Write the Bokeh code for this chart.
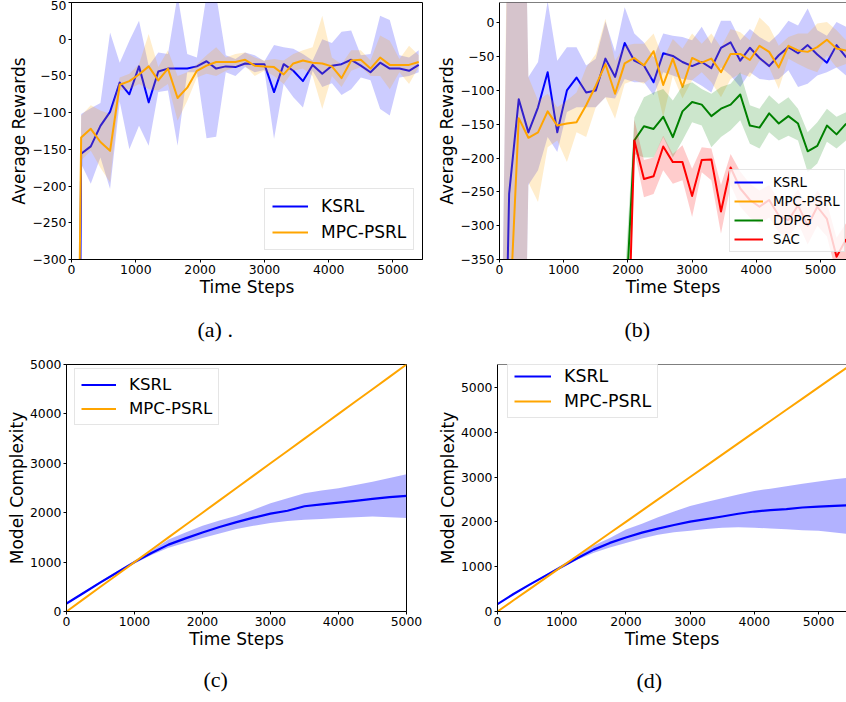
from bokeh.plotting import figure
from bokeh.layouts import column, row
from bokeh.models import Range1d, FixedTicker, Span, Title
from bokeh.embed import file_html
from bokeh.resources import INLINE

# ---------------- data: panel (a) ----------------
steps_a = [0, 150, 300, 450, 600, 750, 900, 1050, 1200, 1350, 1500, 1650, 1800, 1950,
           2100, 2250, 2400, 2550, 2700, 2850, 3000, 3150, 3300, 3450, 3600, 3750,
           3900, 4050, 4200, 4350, 4500, 4650, 4800, 4950, 5100, 5250, 5400]
ksrl_a = [-2200, -156, -146, -118, -99, -59, -75, -37, -86, -44, -40, -40, -40, -37,
          -30, -40, -37, -38, -33, -34, -34, -72, -34, -43, -57, -35, -47, -36, -34,
          -28, -36, -45, -32, -40, -40, -43, -35]
ksrl_a_hi = [-1900, -102, -94, -87, 9, -32, -2, 25, -36, -18, -20, 60, -20, -25,
             60, 60, -22, -27, -18, -22, -30, -8, -11, -13, -20, -29, 0, -5, 10,
             12, -22, -20, 32, 26, -22, -25, -15]
ksrl_a_lo = [-2500, -170, -197, -161, -204, -85, -150, -118, -145, -72, -70, -145, -45, -45,
             -135, -133, -45, -50, -38, -45, -42, -136, -61, -79, -93, -43, -65, -60, -76,
             -68, -52, -56, -95, -104, -52, -50, -45]
mpc_a = [-1300, -134, -122, -140, -152, -62, -57, -48, -37, -56, -40, -80, -66, -43,
         -36, -31, -31, -31, -28, -36, -37, -38, -48, -33, -29, -32, -33, -37, -53,
         -29, -28, -40, -25, -35, -35, -35, -31]
mpc_a_hi = [-1000, -104, -90, -97, -102, -52, -47, -34, 7, -38, -15, -50, -45, -34,
            -22, -11, -25, -20, -18, -25, -29, -27, -29, -20, -15, -11, 32, -25, -34,
            -15, -15, -29, 5, -2, -27, -9, -22]
mpc_a_lo = [-1600, -165, -152, -175, -195, -70, -68, -61, -68, -70, -61, -111, -84, -52,
            -47, -50, -43, -38, -36, -50, -43, -50, -61, -43, -40, -50, -95, -50, -65,
            -43, -38, -50, -50, -68, -45, -61, -38]

# ---------------- data: panel (b) ----------------
steps_b = steps_a
ksrl_b = [-950, -253, -113, -162, -125, -73, -162, -100, -81, -103, -100, -53, -80, -30,
          -56, -63, -88, -45, -49, -58, -64, -58, -67, -37, -29, -56, -37, -52, -64,
          -48, -36, -45, -33, -47, -59, -33, -51]
ksrl_b_hi = [-700, 300, 700, -80, -58, 32, -56, -36, -36, -63, -53, 2, -43, 23,
             -16, -29, -51, -16, -19, -21, -26, -6, -31, 3, 3, -26, -9, -21, -29,
             -16, 3, -4, 21, -11, -19, 1, -6]
ksrl_b_lo = [-1200, -800, -1050, -240, -218, -169, -191, -132, -125, -125, -125, -110, -112, -83,
             -88, -88, -107, -73, -78, -83, -85, -93, -103, -66, -78, -95, -73, -83, -85,
             -83, -70, -95, -90, -78, -73, -66, -78]
mpc_b = [-1000, -453, -141, -170, -162, -131, -152, -149, -147, -122, -93, -61, -105, -60,
         -52, -63, -42, -92, -53, -95, -52, -59, -53, -73, -46, -46, -55, -34, -43,
         -66, -34, -41, -43, -36, -25, -38, -41]
mpc_b_hi = [-800, 400, 700, -80, -115, -105, -125, -115, -103, -66, -46, 6, -56, -34,
            -31, -31, -16, -53, -24, -38, -16, -31, -16, -36, -9, -14, -26, 8, -6,
            -34, -21, -16, -16, -1, 1, -11, -26]
mpc_b_lo = [-1200, -1200, -1050, -236, -265, -184, -174, -206, -162, -169, -125, -110, -142, -90,
            -85, -90, -78, -140, -78, -112, -85, -73, -88, -110, -83, -75, -80, -56, -66,
            -98, -53, -61, -68, -73, -48, -66, -61]
steps_rl = [1950, 2100, 2250, 2400, 2550, 2700, 2850, 3000, 3150, 3300, 3450, 3600,
            3750, 3900, 4050, 4200, 4350, 4500, 4650, 4800, 4950, 5100, 5250, 5400]
ddpg_b = [-450, -174, -153, -157, -139, -169, -131, -117, -121, -138, -127, -121,
          -106, -152, -155, -134, -149, -138, -149, -190, -182, -152, -165, -149]
ddpg_b_hi = [-380, -140, -110, -103, -98, -115, -93, -88, -98, -105, -95, -90,
             -73, -122, -127, -107, -120, -110, -127, -162, -147, -127, -139, -132]
ddpg_b_lo = [-520, -194, -199, -199, -169, -199, -174, -147, -152, -184, -169, -159,
             -144, -179, -186, -162, -174, -167, -174, -221, -208, -176, -186, -174]
sac_b = [-650, -174, -231, -227, -183, -206, -206, -256, -203, -202, -279, -214,
         -245, -262, -272, -262, -285, -292, -270, -300, -272, -290, -346, -320]
sac_b_hi = [-580, -143, -203, -199, -167, -194, -181, -216, -184, -186, -240, -194,
            -220, -238, -248, -240, -262, -266, -246, -274, -248, -266, -318, -296]
sac_b_lo = [-720, -190, -258, -253, -218, -238, -233, -287, -221, -233, -312, -240,
            -272, -288, -298, -288, -310, -318, -296, -328, -300, -316, -372, -348]

# ---------------- data: panel (c) ----------------
steps_c = [0, 250, 500, 750, 1000, 1250, 1500, 1750, 2000, 2250, 2500, 2750, 3000,
           3250, 3500, 3750, 4000, 4250, 4500, 4750, 5000]
ksrl_c = [160, 375, 590, 795, 1000, 1185, 1354, 1480, 1600, 1710, 1810, 1900, 1980,
          2040, 2130, 2170, 2205, 2240, 2280, 2315, 2340]
ksrl_c_hi = [175, 395, 610, 820, 1030, 1230, 1455, 1600, 1736, 1840, 1938, 2060, 2193,
             2290, 2394, 2450, 2495, 2560, 2628, 2700, 2777]
ksrl_c_lo = [145, 360, 570, 775, 970, 1145, 1288, 1390, 1489, 1580, 1670, 1735, 1790,
             1830, 1857, 1870, 1891, 1910, 1924, 1910, 1891]
mpc_c = [0, 250, 500, 750, 1000, 1250, 1500, 1750, 2000, 2250, 2500, 2750, 3000,
         3250, 3500, 3750, 4000, 4250, 4500, 4750, 5000]

# ---------------- data: panel (d) ----------------
steps_d = [0, 250, 500, 750, 1000, 1250, 1500, 1750, 2000, 2250, 2500, 2750, 3000,
           3250, 3500, 3750, 4000, 4250, 4500, 4750, 5000, 5250, 5500]
ksrl_d = [164, 390, 600, 800, 1000, 1195, 1380, 1530, 1650, 1760, 1850, 1930, 2005,
          2060, 2120, 2180, 2230, 2260, 2285, 2320, 2340, 2355, 2370]
ksrl_d_hi = [180, 405, 615, 820, 1040, 1250, 1470, 1640, 1830, 1960, 2100, 2230, 2354,
             2440, 2525, 2610, 2689, 2740, 2796, 2850, 2902, 2950, 2990]
ksrl_d_lo = [150, 375, 585, 780, 965, 1160, 1310, 1430, 1530, 1630, 1710, 1770, 1799,
             1840, 1871, 1880, 1870, 1850, 1835, 1815, 1799, 1760, 1725]
mpc_d = [0, 250, 500, 750, 1000, 1250, 1500, 1750, 2000, 2250, 2500, 2750, 3000,
         3250, 3500, 3750, 4000, 4250, 4500, 4750, 5000, 5250, 5500]

# ---------------- ticks / labels ----------------
x_ticks = [0, 1000, 2000, 3000, 4000, 5000]
y_ticks_a = [-300, -250, -200, -150, -100, -50, 0, 50]
y_ticks_b = [-350, -300, -250, -200, -150, -100, -50, 0]
y_ticks_cd = [0, 1000, 2000, 3000, 4000, 5000]
x_label = "Time Steps"
y_label_rew = "Average Rewards"
y_label_cx = "Model Complexity"
panel_labels = ["(a) .", "(b)", "(c)", "(d)"]

BLUE, ORANGE, GREEN, RED = "#0000ff", "#ffa500", "#008000", "#ff0000"
SANS = "DejaVu Sans"
SERIF = "Liberation Serif"


def make_fig(width, height, xr, yr, bl, br, bt, bb, yticks, ylabel, full_box):
    p = figure(width=width, height=height, x_range=Range1d(*xr), y_range=Range1d(*yr),
               output_backend="svg", toolbar_location=None, title=None,
               min_border_left=bl, min_border_right=br, min_border_top=bt,
               min_border_bottom=bb, background_fill_color="white",
               border_fill_color="white")
    p.xgrid.visible = False
    p.ygrid.visible = False
    p.xaxis.ticker = FixedTicker(ticks=x_ticks)
    p.yaxis.ticker = FixedTicker(ticks=yticks)
    p.yaxis.major_label_overrides = {t: str(t).replace("-", "\u2212") for t in yticks}
    for ax in (p.xaxis[0], p.yaxis[0]):
        ax.axis_line_color = "black"
        ax.axis_line_width = 1
        ax.major_tick_line_color = "black"
        ax.minor_tick_line_color = None
        ax.major_tick_out = 3
        ax.major_tick_in = 0
        ax.major_label_text_font = SANS
        ax.major_label_text_font_size = "12.4px"
        ax.major_label_text_color = "black"
        ax.axis_label_text_font = SANS
        ax.axis_label_text_font_size = "17px"
        ax.axis_label_text_font_style = "normal"
        ax.axis_label_text_color = "black"
    p.xaxis.major_label_standoff = 2
    p.yaxis.major_label_standoff = 2
    p.xaxis.axis_label_standoff = 0
    p.yaxis.axis_label_standoff = 0
    p.xaxis.axis_label = x_label
    p.yaxis.axis_label = ylabel
    if full_box:
        p.outline_line_color = "black"
        p.outline_line_alpha = 1
        p.outline_line_width = 1
    else:
        p.outline_line_color = None
        p.add_layout(Span(location=yr[1], dimension="width", line_color="black", line_width=1))
    return p


def series(p, x, y, lo, hi, color, name, alpha, lw):
    p.line(x, y, line_color=color, line_width=lw, line_join="round", legend_label=name)
    p.varea(x=x, y1=lo, y2=hi, fill_color=color, fill_alpha=alpha)


def style_legend(p, loc, font, gw, gh, standoff, spacing, padding):
    lg = p.legend[0]
    lg.location = loc
    lg.label_text_font = SANS
    lg.label_text_font_size = font
    lg.label_text_color = "black"
    lg.glyph_width = gw
    lg.glyph_height = gh
    lg.label_height = gh
    lg.label_standoff = standoff
    lg.spacing = spacing
    lg.padding = padding
    lg.margin = 0
    lg.border_line_color = "#cccccc"
    lg.border_line_width = 1
    lg.background_fill_color = "white"
    lg.background_fill_alpha = 0.8


def panel_label(p, text, offset, gap):
    # spacer pushes the caption down below the x-axis label
    p.add_layout(Title(text=" ", text_font_size="1px", standoff=gap), "below")
    p.add_layout(Title(text=text, align="left", offset=offset, vertical_align="middle",
                       standoff=0, text_font=SERIF, text_font_size="22px",
                       text_font_style="normal", text_color="black"), "below")


# (a)
pa = make_fig(424, 346, (0, 5459), (-300, 50), 71, 2, 2, 87, y_ticks_a, y_label_rew, True)
series(pa, steps_a, ksrl_a, ksrl_a_lo, ksrl_a_hi, BLUE, "KSRL", 0.2, 2)
series(pa, steps_a, mpc_a, mpc_a_lo, mpc_a_hi, ORANGE, "MPC-PSRL", 0.2, 2)
style_legend(pa, (193, 9), "17px", 36, 20, 13, 6, 7)
panel_label(pa, panel_labels[0], 126, 13)

# (b)
pb = make_fig(422, 346, (0, 5405), (-350, 30), 75, 0, 2, 87, y_ticks_b, y_label_rew, False)
series(pb, steps_b, ksrl_b, ksrl_b_lo, ksrl_b_hi, BLUE, "KSRL", 0.2, 2)
series(pb, steps_b, mpc_b, mpc_b_lo, mpc_b_hi, ORANGE, "MPC-PSRL", 0.2, 2)
series(pb, steps_rl, ddpg_b, ddpg_b_lo, ddpg_b_hi, GREEN, "DDPG", 0.2, 2)
series(pb, steps_rl, sac_b, sac_b_lo, sac_b_hi, RED, "SAC", 0.2, 2)
style_legend(pb, (230, 7), "13.3px", 29, 16, 10, 3, 4)
panel_label(pb, panel_labels[1], 125, 13)

# (c)
pc = make_fig(424, 355, (0, 5000), (0, 5000), 66, 18, 18, 88, y_ticks_cd, y_label_cx, True)
series(pc, steps_c, ksrl_c, ksrl_c_lo, ksrl_c_hi, BLUE, "KSRL", 0.3, 2.2)
pc.line(steps_c, mpc_c, line_color=ORANGE, line_width=2, legend_label="MPC-PSRL")
style_legend(pc, (8, 186), "16.6px", 35, 19, 13, 5, 6)
panel_label(pc, panel_labels[2], 137, 11)

# (d)
pd_ = make_fig(422, 355, (0, 5436), (0, 5510), 73, 0, 7, 90, y_ticks_cd, y_label_cx, False)
series(pd_, steps_d, ksrl_d, ksrl_d_lo, ksrl_d_hi, BLUE, "KSRL", 0.3, 2.2)
pd_.line(steps_d, mpc_d, line_color=ORANGE, line_width=2, legend_label="MPC-PSRL")
style_legend(pd_, (10, 193), "17.4px", 37, 20, 13, 5, 6)
panel_label(pd_, panel_labels[3], 139, 12)

layout = column(row(pa, pb), row(pc, pd_))
open("out.html", "w").write(file_html(layout, INLINE))
